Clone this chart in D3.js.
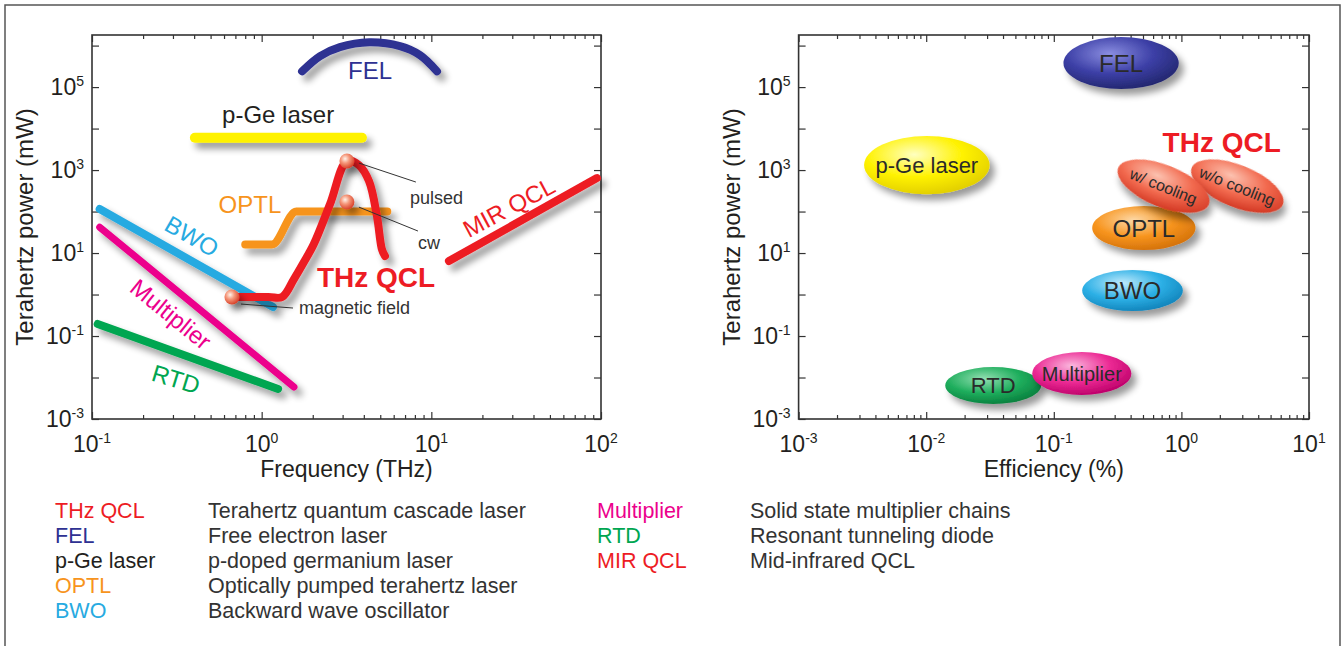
<!DOCTYPE html>
<html><head><meta charset="utf-8">
<script src="https://cdn.jsdelivr.net/npm/d3@7"></script>
<style>
body{margin:0;background:#fff}
svg{display:block}
text{font-family:"Liberation Sans",Arial,Helvetica,sans-serif}
</style>
</head><body>
<svg id="c" width="1344" height="646"></svg>
<script>
// ---------------- DATA ----------------
// Left chart: power (mW) vs frequency (THz)
const felFreq   = [1.73, 2.21, 2.89, 4.3, 6.53, 8.57, 10.8];
const felPower  = [2.4e5, 5.6e5, 9.2e5, 1.2e6, 9.7e5, 5.9e5, 2.4e5];
const pgeFreq   = [0.404, 3.9];
const pgePower  = [6000, 6000];
const optlFreq  = [0.8, 1.15, 1.6, 5.5];
const optlPower = [16, 16, 100, 100];
const bwoFreq   = [0.111, 1.166];
const bwoPower  = [115, 0.5];
const multFreq  = [0.111, 1.55];
const multPower = [42, 0.0059];
const rtdFreq   = [0.108, 1.25];
const rtdPower  = [0.195, 0.0053];
const mirFreq   = [12.7, 94.6];
const mirPower  = [6.4, 641];
const qclFreq   = [0.668, 1.1, 1.32, 1.55, 1.775, 2.03, 2.53, 3.18, 3.74, 4.29, 4.78, 5.11, 5.33];
const qclPower  = [0.87, 0.87, 0.87, 2.36, 6.07, 16.5, 152, 1650, 1318, 543, 78, 12.5, 8.5];
// record points (balls) and their annotations
const ballNames = ["magnetic field", "pulsed", "cw"];
const ballFreq  = [0.668, 3.18, 3.18];
const ballPower = [0.87, 1650, 170];
const leadFreqFrom  = [0.755, 3.74, 3.74];
const leadPowerFrom = [0.59, 1475, 128];
const leadFreqTo    = [1.53, 8.11, 8.34];
const leadPowerTo   = [0.473, 514, 33.9];
const noteFreq  = [1.66, 7.48, 8.34];
const notePower = [0.486, 223, 17.9];
// left chart series labels (centre in data coordinates)
const lblNames = ["FEL", "p-Ge laser", "OPTL", "BWO", "Multiplier", "RTD", "MIR QCL", "THz QCL"];
const lblFreq  = [4.35, 1.25, 0.853, 0.388, 0.292, 0.313, 28.6, 4.72];
const lblPower = [2.5e5, 2.23e4, 152, 25.7, 0.339, 0.0092, 128, 2.64];

// Right chart: power (mW) vs efficiency (%)
const ellNames   = ["FEL", "p-Ge laser", "BWO", "RTD", "Multiplier", "OPTL", "w/o cooling", "w/ cooling"];
const ellEffLo   = [0.119, 0.00326, 0.167, 0.0141, 0.0678, 0.2, 1.13, 0.3];
const ellEffHi   = [0.953, 0.0314, 1.026, 0.0796, 0.405, 1.29, 6.65, 1.75];
const ellPowLo   = [9e4, 263, 0.4, 0.0023, 0.0038, 11.8, 128, 128];
const ellPowHi   = [1.6e6, 6600, 3.9, 0.0179, 0.041, 136, 1320, 1320];
const qclLabelEff = 2.07, qclLabelPow = 4730;

// Axes ticks
const xTicksLeft  = [0.1, 1, 10, 100];
const xExpLeft    = ["-1", "0", "1", "2"];
const xTicksRight = [0.001, 0.01, 0.1, 1, 10];
const xExpRight   = ["-3", "-2", "-1", "0", "1"];
const yTicksLab   = [1e-3, 1e-1, 1e1, 1e3, 1e5];
const yExp        = ["-3", "-1", "1", "3", "5"];
const yTicksAll   = [1e-3, 1e-2, 1e-1, 1, 1e1, 1e2, 1e3, 1e4, 1e5, 1e6];

// Legend
const legAbbr = ["THz QCL", "FEL", "p-Ge laser", "OPTL", "BWO", "Multiplier", "RTD", "MIR QCL"];
const legDesc = ["Terahertz quantum cascade laser", "Free electron laser", "p-doped germanium laser",
  "Optically pumped terahertz laser", "Backward wave oscillator", "Solid state multiplier chains",
  "Resonant tunneling diode", "Mid-infrared QCL"];

// ---------------- STYLES ----------------
const C = {red:"#ed1c24", fel:"#2e3192", yellow:"#fff200", orange:"#f7941d", cyan:"#27aae1",
  magenta:"#ec008c", green:"#00a651", ink:"#231f20"};
const legColor = [C.red, C.fel, C.ink, C.orange, C.cyan, C.magenta, C.green, C.red];
const lblColor = [C.fel, C.ink, C.orange, C.cyan, C.magenta, C.green, C.red, C.red];
const lblAngle = [0, 0, 0, 30, 39, 17, -28, 0];
const lblSize  = [24, 24, 24, 24, 24, 24, 24, 28];
const lblWeight= ["normal","normal","normal","normal","normal","normal","normal","bold"];
const ellGrad = [
  ["#8a8de0","#3c3fa6","#23276f"],
  ["#ffffc0","#fff200","#e2cf00"],
  ["#bfeafc","#2db0e6","#1184bb"],
  ["#93dfb2","#1fae5d","#08803e"],
  ["#fab8de","#ec2a94","#bd006a"],
  ["#fdd8a6","#f7941d","#d4720a"],
  ["#fcc2b0","#f26a4f","#d43a25"],
  ["#fcc2b0","#f26a4f","#d43a25"]];
const ellAngle = [0,0,0,0,0,0,22,22];
const ellFont  = [24,22,24,22,20,24,16,16];

const svg = d3.select("#c");
const defs = svg.append("defs");
function shadowFilter(id, userSpace){
  const f = defs.append("filter").attr("id",id);
  if (userSpace) f.attr("filterUnits","userSpaceOnUse").attr("x",0).attr("y",0).attr("width",1344).attr("height",646);
  else f.attr("x","-40%").attr("y","-40%").attr("width","180%").attr("height","180%");
  f.append("feGaussianBlur").attr("in","SourceAlpha").attr("stdDeviation",3.5);
  f.append("feOffset").attr("dx",5).attr("dy",6).attr("result","o");
  f.append("feComponentTransfer").append("feFuncA").attr("type","linear").attr("slope",0.4);
  const mg = f.append("feMerge"); mg.append("feMergeNode"); mg.append("feMergeNode").attr("in","SourceGraphic");
}
shadowFilter("sh", true);
shadowFilter("sh2", false);

const bg = defs.append("radialGradient").attr("id","ball").attr("cx","38%").attr("cy","35%").attr("r","65%");
bg.append("stop").attr("offset","0").attr("stop-color","#fff3ea");
bg.append("stop").attr("offset","0.45").attr("stop-color","#f5977a");
bg.append("stop").attr("offset","1").attr("stop-color","#d9442c");

ellGrad.forEach((g,i)=>{
  const rg = defs.append("radialGradient").attr("id","eg"+i).attr("cx","40%").attr("cy","32%").attr("r","70%");
  rg.append("stop").attr("offset","0").attr("stop-color",g[0]);
  rg.append("stop").attr("offset","0.55").attr("stop-color",g[1]);
  rg.append("stop").attr("offset","1").attr("stop-color",g[2]);
});

// outer frame
svg.append("rect").attr("x",5).attr("y",5).attr("width",1335).attr("height",700)
  .attr("fill","none").attr("stroke","#555").attr("stroke-width",1.5);

// ---------------- SCALES ----------------
const yL = d3.scaleLog().domain([1e-3, 1.8e6]).range([419, 35]);
const xL = d3.scaleLog().domain([0.1, 100]).range([92, 601]);
const xR = d3.scaleLog().domain([0.001, 10]).range([798.6, 1309]);
const yR = yL.copy();

function minorsOf(x){
  const [d0,d1]=x.domain(), out=[];
  for(let e=Math.round(Math.log10(d0)); e<Math.round(Math.log10(d1)); e++)
    for(let k=2;k<=9;k++) out.push(k*Math.pow(10,e));
  return out;
}
function drawAxes(x, y, xTicks, xExp, xTitle){
  const [x0,x1]=x.range(), [y0,y1]=y.range();
  const g = svg.append("g");
  const tick = (axis, tx, ty) => {
    const a = g.append("g").attr("transform",`translate(${tx},${ty})`).call(axis);
    a.select(".domain").remove();
    a.selectAll("line").attr("stroke","#333").attr("stroke-width",1.2);
  };
  const mn = minorsOf(x);
  tick(d3.axisBottom(x).tickValues(mn).tickSize(-4).tickFormat(""), 0, y0);
  tick(d3.axisTop(x).tickValues(mn).tickSize(-4).tickFormat(""), 0, y1);
  tick(d3.axisBottom(x).tickValues(xTicks).tickSize(-7).tickFormat(""), 0, y0);
  tick(d3.axisTop(x).tickValues(xTicks).tickSize(-7).tickFormat(""), 0, y1);
  tick(d3.axisLeft(y).tickValues(yTicksAll).tickSize(-7).tickFormat(""), x0, 0);
  tick(d3.axisRight(y).tickValues(yTicksAll).tickSize(-7).tickFormat(""), x1, 0);
  g.append("rect").attr("x",x0).attr("y",y1).attr("width",x1-x0).attr("height",y0-y1)
    .attr("fill","none").attr("stroke","#333").attr("stroke-width",1.6);
  const lab = (px, py, e, anchor) => {
    const t = g.append("text").attr("x",px).attr("y",py).attr("text-anchor",anchor)
      .attr("font-size",23).attr("fill",C.ink);
    t.append("tspan").text("10");
    t.append("tspan").attr("font-size",14).attr("dy",-9).text(e);
  };
  xTicks.forEach((v,i)=>lab(x(v), y0+33, xExp[i], "middle"));
  yTicksLab.forEach((v,i)=>lab(x0-8, y(v)+8, yExp[i], "end"));
  g.append("text").attr("x",(x0+x1)/2).attr("y",y0+58).attr("text-anchor","middle")
    .attr("font-size",23).attr("fill",C.ink).text(xTitle);
  g.append("text").attr("transform",`translate(${x0-59},${(y0+y1)/2}) rotate(-90)`)
    .attr("text-anchor","middle").attr("font-size",24).attr("fill",C.ink).text("Terahertz power (mW)");
}
drawAxes(xL, yL, xTicksLeft, xExpLeft, "Frequency (THz)");
drawAxes(xR, yR, xTicksRight, xExpRight, "Efficiency (%)");

// ---------------- LEFT CHART ----------------
const gl = svg.append("g");
function series(fr, pw, color, width, curve){
  const line = d3.line().x(d=>xL(d[0])).y(d=>yL(d[1])).curve(curve||d3.curveLinear);
  gl.append("path").attr("d", line(fr.map((f,i)=>[f,pw[i]])))
    .attr("fill","none").attr("stroke",color).attr("stroke-width",width)
    .attr("stroke-linecap","round").attr("stroke-linejoin","round").attr("filter","url(#sh)");
}
series(felFreq, felPower, C.fel, 8, d3.curveCatmullRom);
series(pgeFreq, pgePower, C.yellow, 10);
series(optlFreq, optlPower, C.orange, 8, d3.curveMonotoneX);
series(bwoFreq, bwoPower, C.cyan, 8);
series(multFreq, multPower, C.magenta, 7);
series(rtdFreq, rtdPower, C.green, 8);
series(mirFreq, mirPower, C.red, 8);
series(qclFreq, qclPower, C.red, 8, d3.curveCatmullRom);

ballNames.forEach((n,i)=>{
  gl.append("line").attr("x1",xL(leadFreqFrom[i])).attr("y1",yL(leadPowerFrom[i]))
    .attr("x2",xL(leadFreqTo[i])).attr("y2",yL(leadPowerTo[i]))
    .attr("stroke","#333").attr("stroke-width",1);
  gl.append("circle").attr("cx",xL(ballFreq[i])).attr("cy",yL(ballPower[i])).attr("r",7.5)
    .attr("fill","url(#ball)").attr("filter","url(#sh)");
  gl.append("text").attr("x",xL(noteFreq[i])).attr("y",yL(notePower[i])).attr("dy","0.36em")
    .attr("font-size",18).attr("fill","#333").text(n);
});

lblNames.forEach((n,i)=>{
  const px=xL(lblFreq[i]), py=yL(lblPower[i]);
  gl.append("text").attr("transform",`translate(${px},${py}) rotate(${lblAngle[i]})`)
    .attr("text-anchor","middle").attr("dy","0.36em").attr("font-size",lblSize[i])
    .attr("font-weight",lblWeight[i]).attr("fill",lblColor[i]).text(n);
});

// ---------------- RIGHT CHART ----------------
const gr = svg.append("g");
ellNames.forEach((n,i)=>{
  const xa=xR(ellEffLo[i]), xb=xR(ellEffHi[i]), ya=yR(ellPowLo[i]), yb=yR(ellPowHi[i]);
  const cx=(xa+xb)/2, cy=(ya+yb)/2, rx=(xb-xa)/2, ry=(ya-yb)/2;
  const g = gr.append("g").attr("transform",`translate(${cx},${cy}) rotate(${ellAngle[i]})`);
  g.append("ellipse").attr("rx",rx).attr("ry",ry).attr("fill",`url(#eg${i})`).attr("filter","url(#sh2)");
  g.append("text").attr("text-anchor","middle").attr("dy","0.36em").attr("font-size",ellFont[i])
    .attr("fill","#2a2a2a").text(n);
});
gr.append("text").attr("x",xR(qclLabelEff)).attr("y",yR(qclLabelPow)).attr("dy","0.36em")
  .attr("text-anchor","middle").attr("font-size",28).attr("font-weight","bold").attr("fill",C.red).text("THz QCL");

// ---------------- LEGEND ----------------
const lg = svg.append("g");
legAbbr.forEach((a,i)=>{
  const col = i<5 ? 0 : 1, row = i<5 ? i : i-5;
  const xa = col ? 597 : 55, xd = col ? 750 : 208, y = 518 + row*25;
  lg.append("text").attr("x",xa).attr("y",y).attr("font-size",21.5).attr("fill",legColor[i]).text(a);
  lg.append("text").attr("x",xd).attr("y",y).attr("font-size",21.5).attr("fill","#333").text(legDesc[i]);
});
</script>
</body></html>
